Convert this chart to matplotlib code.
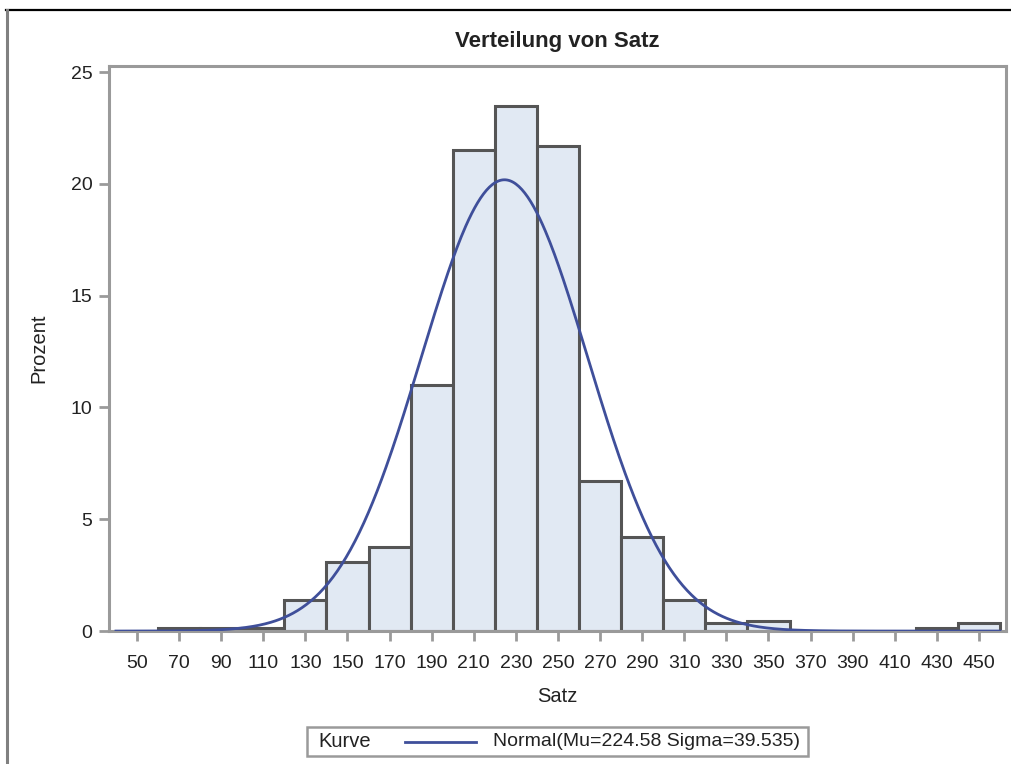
import numpy as np
import matplotlib
matplotlib.use("Agg")
import matplotlib.pyplot as plt
from matplotlib.lines import Line2D
from matplotlib.patches import Rectangle

plt.rcParams['font.family'] = ['Liberation Sans', 'DejaVu Sans']

# histogram bins (left edges, width 20) and percentages
bin_left = [40, 60, 80, 100, 120, 140, 160, 180, 200, 220, 240,
            260, 280, 300, 320, 340, 360, 380, 400, 420, 440]
percent = [0, 0.15, 0.15, 0.15, 1.4, 3.1, 3.75, 11.0, 21.5, 23.5, 21.7,
           6.7, 4.2, 1.4, 0.35, 0.45, 0, 0, 0, 0.15, 0.35]
bin_width = 20

# fitted normal curve parameters (from legend)
mu = 224.58
sigma = 39.535

x_ticks = list(range(50, 451, 20))
y_ticks = [0, 5, 10, 15, 20, 25]

fill_col = '#e1e9f3'
edge_col = '#555555'
curve_col = '#3f4f9a'
frame_col = '#9a9a9a'
text_col = '#222222'

W, H = 1011, 764
fig = plt.figure(figsize=(W / 100, H / 100), dpi=100)
ax = fig.add_axes([0.1078, 0.174, 0.8872, 0.7396])

# bars (skip empty bins, they show no outline in the reference)
for left, h in zip(bin_left, percent):
    if h > 0:
        ax.bar(left, h, width=bin_width, align='edge', color=fill_col,
               edgecolor=edge_col, linewidth=2.2, zorder=2)

# normal curve scaled to percent per bin
xs = np.linspace(40, 460, 600)
ys = 100 * bin_width * np.exp(-0.5 * ((xs - mu) / sigma) ** 2) / (sigma * np.sqrt(2 * np.pi))
ax.plot(xs, ys, color=curve_col, lw=2, zorder=3)

ax.set_xlim(36.7, 462.8)
ax.set_ylim(0, 25.27)
ax.set_xticks(x_ticks)
ax.set_yticks(y_ticks)
ax.tick_params(axis='both', length=7, width=2, color=frame_col,
               labelsize=14, labelcolor=text_col)
ax.tick_params(axis='x', pad=10)
ax.tick_params(axis='y', pad=5)
for sp in ax.spines.values():
    sp.set_color(frame_col)
    sp.set_linewidth(2.2)

ax.set_xlabel('Satz', fontsize=14.5, labelpad=11, color=text_col)
ax.set_ylabel('Prozent', fontsize=14.5, labelpad=16, color=text_col)
ax.set_title('Verteilung von Satz', fontsize=16, fontweight='bold', pad=14, color=text_col)

# legend box drawn by hand: "Kurve" label, line sample, curve description
fig.add_artist(Rectangle((307 / W, 1 - 756 / H), 501 / W, 29 / H,
                         transform=fig.transFigure, facecolor='white',
                         edgecolor=frame_col, linewidth=1.8))
ly = 1 - 741.5 / H
fig.text(318 / W, ly, 'Kurve', fontsize=14.5, va='center', color=text_col)
fig.add_artist(Line2D([405 / W, 476 / W], [ly, ly], color=curve_col, lw=2,
                      transform=fig.transFigure))
fig.text(493 / W, ly, 'Normal(Mu=224.58 Sigma=39.535)', fontsize=14,
         va='center', color=text_col)

# outer frame lines of the exported graphic
fig.add_artist(Line2D([0.006, 1.0], [0.987, 0.987], color='black', lw=1.6,
                      transform=fig.transFigure))
fig.add_artist(Line2D([0.007, 0.007], [0.0, 0.987], color='#808080', lw=2.2,
                      transform=fig.transFigure))

fig.savefig('out.png', dpi=100)
